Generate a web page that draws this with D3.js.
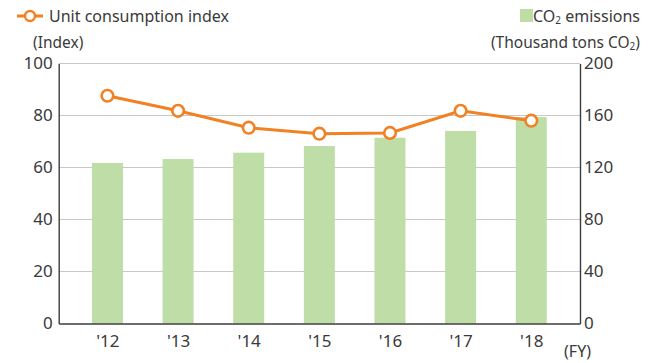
<!DOCTYPE html>
<html>
<head>
<meta charset="utf-8">
<script src="https://cdn.jsdelivr.net/npm/d3@7"></script>
<style>
  html, body { margin: 0; padding: 0; background: #fff; }
  svg text { font-family: "Noto Sans", "Open Sans", sans-serif; fill: #3a3a3a; }
</style>
</head>
<body>
<svg id="chart" width="657" height="363"></svg>
<script>
// Fiscal years
const years = ["'12", "'13", "'14", "'15", "'16", "'17", "'18"];
// CO2 emissions (thousand tons CO2), right axis
const emissions = [123.5, 126.5, 131.4, 136.5, 142.9, 148.1, 158.8];
// Unit consumption index, left axis
const indexValues = [87.6, 81.8, 75.3, 73.0, 73.3, 81.8, 78.0];
// Axis ticks
const leftTicks = [0, 20, 40, 60, 80, 100];
const rightTicks = [0, 40, 80, 120, 160, 200];

const orange = "#f18122";
const green = "#bfdda6";
const axisColor = "#3c3c3c";
const gridColor = "#c8c8c8";

const svg = d3.select("#chart");
const plotLeft = 58.7, plotRight = 580, plotTop = 63.5, plotBottom = 323.5;

const x = d3.scalePoint().domain(years).range([plotLeft, plotRight]).padding(0.69);
const yL = d3.scaleLinear().domain([0, 100]).range([plotBottom, plotTop]);
const yR = d3.scaleLinear().domain([0, 200]).range([plotBottom, plotTop]);

// Horizontal gridlines
svg.append("g")
  .selectAll("line")
  .data(leftTicks.filter(d => d > 0))
  .join("line")
  .attr("x1", plotLeft).attr("x2", plotRight)
  .attr("y1", d => yL(d)).attr("y2", d => yL(d))
  .attr("stroke", gridColor).attr("stroke-width", 1.2);

// Emission bars
const barW = 31;
svg.append("g")
  .selectAll("rect")
  .data(emissions)
  .join("rect")
  .attr("x", (d, i) => x(years[i]) - barW / 2)
  .attr("width", barW)
  .attr("y", d => yR(d))
  .attr("height", d => plotBottom - yR(d))
  .attr("fill", green);

// Axes
const leftAxis = d3.axisLeft(yL).tickValues(leftTicks).tickSize(0).tickPadding(6);
const gL = svg.append("g").attr("transform", `translate(${plotLeft},0)`).call(leftAxis);
const rightAxis = d3.axisRight(yR).tickValues(rightTicks).tickSize(0).tickPadding(4);
const gR = svg.append("g").attr("transform", `translate(${plotRight},0)`).call(rightAxis);
const bottomAxis = d3.axisBottom(x).tickSize(0).tickPadding(9);
const gB = svg.append("g").attr("transform", `translate(0,${plotBottom})`).call(bottomAxis);

[gL, gR, gB].forEach(g => {
  g.select(".domain").attr("stroke", axisColor).attr("stroke-width", 1.4);
  g.selectAll("text").attr("font-size", 17).attr("fill", "#3a3a3a")
    .style("font-family", "'Noto Sans', 'Open Sans', sans-serif");
});
gB.selectAll("text").attr("dy", "0.85em");

// Unit consumption index line
const line = d3.line().x((d, i) => x(years[i])).y(d => yL(d));
svg.append("path")
  .datum(indexValues)
  .attr("d", line)
  .attr("fill", "none")
  .attr("stroke", orange)
  .attr("stroke-width", 3);
svg.append("g")
  .selectAll("circle")
  .data(indexValues)
  .join("circle")
  .attr("cx", (d, i) => x(years[i]))
  .attr("cy", d => yL(d))
  .attr("r", 5.8)
  .attr("fill", "#fff")
  .attr("stroke", orange)
  .attr("stroke-width", 2.6);

// FY label
svg.append("text").attr("x", 591).attr("y", 357).attr("text-anchor", "end")
  .attr("font-size", 16).text("(FY)");

// Legend: line series
svg.append("line").attr("x1", 17).attr("x2", 43).attr("y1", 16).attr("y2", 16)
  .attr("stroke", orange).attr("stroke-width", 3);
svg.append("circle").attr("cx", 30).attr("cy", 16).attr("r", 5)
  .attr("fill", "#fff").attr("stroke", orange).attr("stroke-width", 2.4);
svg.append("text").attr("x", 49).attr("y", 22).attr("font-size", 16)
  .text("Unit consumption index");
svg.append("text").attr("x", 33).attr("y", 48).attr("font-size", 15.5)
  .text("(Index)");

// Legend: bar series
svg.append("rect").attr("x", 520).attr("y", 9).attr("width", 13).attr("height", 13)
  .attr("fill", green);
const t1 = svg.append("text").attr("x", 640).attr("y", 22).attr("font-size", 16)
  .attr("text-anchor", "end");
t1.append("tspan").text("CO");
t1.append("tspan").attr("font-size", 10).attr("dy", 1.5).text("2");
t1.append("tspan").attr("dy", -1.5).text(" emissions");
const t2 = svg.append("text").attr("x", 640).attr("y", 48).attr("font-size", 15.5)
  .attr("text-anchor", "end");
t2.append("tspan").text("(Thousand tons CO");
t2.append("tspan").attr("font-size", 10).attr("dy", 1.5).text("2");
t2.append("tspan").attr("dy", -1.5).text(")");
</script>
</body>
</html>
